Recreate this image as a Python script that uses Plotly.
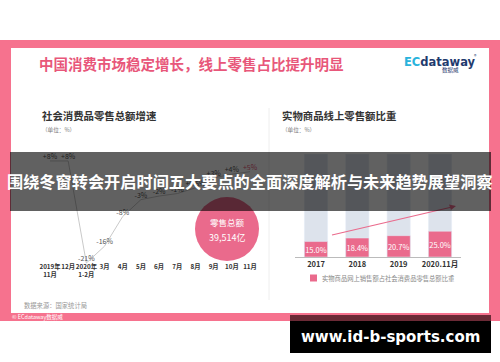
import plotly.graph_objects as go

W, H = 500, 362


def px(x):
    return x / W


def py(y):
    return 1 - y / H


FONT = "Noto Sans CJK SC"

# ---------------- data ----------------
months = ["2019年<br>11月", "12月", "2020年<br>1-2月", "3月", "4月", "5月",
          "6月", "7月", "8月", "9月", "10月", "11月"]
growth = [8.0, 8.0, -20.5, -15.8, -7.5, -2.8, -1.8, -1.1, 0.5, 3.3, 4.3, 5.0]
growth_labels = ["+8%", "+8%", "-21%", "-16%", "-8%", "-3%", "-2%", "-1%",
                 "+0.5%", "+3%", "+4%", "+5%"]

years = ["2017", "2018", "2019", "2020.11月"]
online_share = [15.0, 18.4, 20.7, 25.0]
share_total = [100, 100, 100, 100]

total_sales_title = "零售总额"
total_sales_value = "39,514亿"

title_text = "中国消费市场稳定增长，线上零售占比提升明显"
left_sub = "社会消费品零售总额增速"
right_sub = "实物商品线上零售额比重"
unit_text = "（单位：%）"
legend_text = "实物商品网上销售额占社会消费品零售总额比重"
source_text = "数据来源：国家统计局"
copyright_text = "© ECdataway数据威"
banner_text = "围绕冬窗转会开启时间五大要点的全面深度解析与未来趋势展望洞察"
watermark_text = "www.id-b-sports.com"

# ---------------- colours ----------------
FRAME = "#f6728e"
TITLE_PINK = "#e8577a"
BAR_PINK = "#ea6a8c"
TRACK = "#dde3ec"

fig = go.Figure()

# line chart (growth)
label_colors = ["#555555"] * (len(growth) - 1) + [TITLE_PINK]
fig.add_trace(go.Scatter(
    x=list(range(len(growth))), y=growth, mode="lines+text",
    text=growth_labels, textposition="top center",
    textfont=dict(size=7, color=label_colors, family=FONT),
    line=dict(color="#c9c9c9", width=1), cliponaxis=False,
    hoverinfo="skip", showlegend=False, xaxis="x", yaxis="y"))

# bar chart (online share)
fig.add_trace(go.Bar(
    x=years, y=share_total, marker_color=TRACK, width=0.56,
    hoverinfo="skip", showlegend=False, xaxis="x2", yaxis="y2"))
fig.add_trace(go.Bar(
    x=years, y=online_share, marker_color=BAR_PINK, width=0.56,
    text=[f"{v:.1f}%" for v in online_share], textposition="inside",
    insidetextanchor="middle", textangle=0,
    textfont=dict(size=7.5, color="white", family=FONT),
    hoverinfo="skip", showlegend=False, xaxis="x2", yaxis="y2"))

# ---------------- shapes ----------------
shapes = []
# pink frame and white card
shapes.append(dict(type="rect", xref="paper", yref="paper", layer="below",
                   x0=px(0), x1=px(500), y0=py(321), y1=py(40),
                   fillcolor=FRAME, line=dict(width=0)))
shapes.append(dict(type="rect", xref="paper", yref="paper", layer="below",
                   x0=px(11), x1=px(489), y0=py(313), y1=py(48),
                   fillcolor="white", line=dict(width=0)))
# divider
shapes.append(dict(type="line", xref="paper", yref="paper", layer="below",
                   x0=px(269), x1=px(269), y0=py(300), y1=py(108),
                   line=dict(color="#eeeeee", width=1)))
# total sales circle
shapes.append(dict(type="circle", xref="paper", yref="paper", layer="above",
                   x0=px(195), x1=px(259), y0=py(261), y1=py(197),
                   fillcolor=BAR_PINK, line=dict(width=0)))
# trend arrow on bar chart
shapes.append(dict(type="line", xref="paper", yref="paper", layer="above",
                   x0=px(332), y0=py(235), x1=px(452), y1=py(207),
                   line=dict(color=BAR_PINK, width=1.2)))
shapes.append(dict(type="path", xref="paper", yref="paper", layer="above",
                   path=f"M {px(456)},{py(206)} L {px(449)},{py(204.5)} L {px(451)},{py(210)} Z",
                   fillcolor=BAR_PINK, line=dict(width=0)))
# legend swatch
shapes.append(dict(type="rect", xref="paper", yref="paper", layer="above",
                   x0=px(310), x1=px(317), y0=py(281.5), y1=py(274.5),
                   fillcolor=BAR_PINK, line=dict(width=0)))
# banner
shapes.append(dict(type="rect", xref="paper", yref="paper", layer="above",
                   x0=px(10), x1=px(491), y0=py(211), y1=py(152),
                   fillcolor="rgba(0,0,0,0.62)", line=dict(width=0)))
# watermark box
shapes.append(dict(type="rect", xref="paper", yref="paper", layer="above",
                   x0=px(290), x1=px(491), y0=py(321), y1=py(315),
                   fillcolor="#6b2a36", line=dict(width=0)))
shapes.append(dict(type="rect", xref="paper", yref="paper", layer="above",
                   x0=px(290), x1=px(491), y0=py(353), y1=py(321),
                   fillcolor="black", line=dict(width=0)))

# ---------------- annotations ----------------
ann = []


def text(x, y, s, size, color, bold=False, xanchor="left", family=FONT):
    ann.append(dict(x=px(x), y=py(y), xref="paper", yref="paper",
                    text=f"<b>{s}</b>" if bold else s, showarrow=False,
                    xanchor=xanchor, yanchor="middle",
                    font=dict(size=size, color=color, family=family)))


text(37, 63, title_text, 14.5, TITLE_PINK, bold=True)
# logo
ann.append(dict(x=px(402), y=py(62), xref="paper", yref="paper", showarrow=False,
                xanchor="left", yanchor="middle",
                text='<b><span style="color:#2ab3dc">EC</span>dataway</b>',
                font=dict(size=11.5, color="#1f3b6e", family="DejaVu Sans")))
text(475.5, 55, "®", 5, "#1f3b6e", xanchor="center")
text(450, 70, "数据威", 5.5, "#1f3b6e", xanchor="center")

text(40, 115, left_sub, 10.4, "#333333", bold=True)
text(40, 130, unit_text, 5.6, "#777777")
text(280, 115, right_sub, 10.4, "#333333", bold=True)
text(280, 130, unit_text, 5.6, "#777777")

text(227, 222, total_sales_title, 8.5, "white", xanchor="center")
text(227, 237, total_sales_value, 9, "white", xanchor="center")

text(320, 278, legend_text, 6.3, "#888888")
text(22, 305, source_text, 6.3, "#999999")
text(10, 317, copyright_text, 5.5, "white")

text(250, 181, banner_text, 16.2, "white", bold=True, xanchor="center")
text(390.5, 337, watermark_text, 15, "white", bold=True, xanchor="center",
     family="DejaVu Sans")

fig.update_layout(
    width=W, height=H, margin=dict(l=0, r=0, t=0, b=0),
    paper_bgcolor="white", plot_bgcolor="rgba(0,0,0,0)",
    barmode="overlay", showlegend=False,
    uniformtext=dict(minsize=7.5, mode="show"),
    font=dict(family=FONT),
    shapes=shapes, annotations=ann,
    xaxis=dict(domain=[px(40.9), px(259.1)], range=[-0.5, 11.5],
               tickvals=list(range(len(months))), ticktext=months, tickangle=0,
               tickfont=dict(size=6.3, color="#333333", family=FONT, weight="bold"),
               showgrid=False, zeroline=False, showline=False, ticks="",
               ticklabelstandoff=-3, fixedrange=True),
    yaxis=dict(domain=[py(264.8), py(153.8)], range=[-21, 10], visible=False,
               fixedrange=True),
    xaxis2=dict(domain=[px(295.3), px(460.7)], range=[-0.5, 3.5], type="category",
                anchor="y2", showline=True, linecolor="#bbbbbb", linewidth=1,
                tickangle=0,
                tickfont=dict(size=7.5, color="#333333", family=FONT, weight="bold"),
                showgrid=False, zeroline=False, ticks="", fixedrange=True),
    yaxis2=dict(domain=[py(257), py(154)], range=[0, 100], visible=False,
                anchor="x2", fixedrange=True),
)

fig.write_html("out.html", config={"displayModeBar": False},
               post_script="document.body.style.margin='0';")
